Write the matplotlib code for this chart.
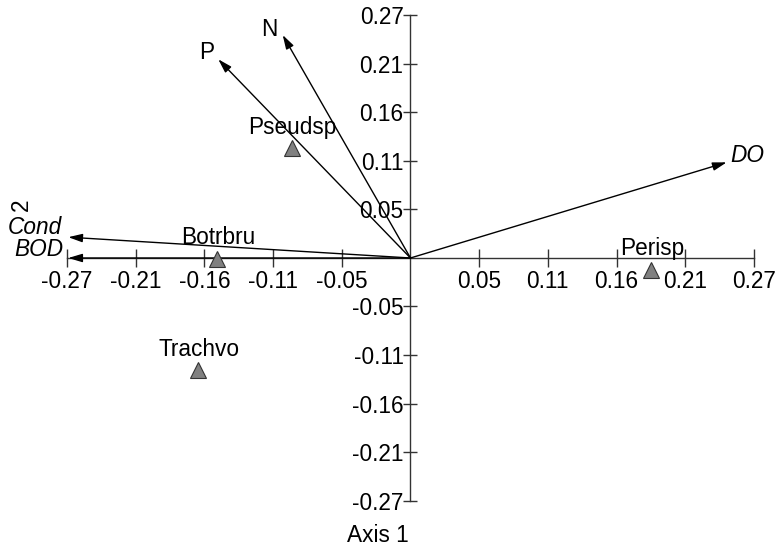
import numpy as np
import matplotlib
matplotlib.use('Agg')
import matplotlib.pyplot as plt

plt.rcParams['font.family'] = ['Liberation Sans', 'DejaVu Sans']

# ticks (evenly spaced, labelled as in the original)
tick_values = [-0.268, -0.2144, -0.1608, -0.1072, -0.0536, 0.0536, 0.1072, 0.1608, 0.2144, 0.268]
tick_labels = ['-0.27', '-0.21', '-0.16', '-0.11', '-0.05', '0.05', '0.11', '0.16', '0.21', '0.27']

# environmental vectors
env_names = ['N', 'P', 'DO', 'Cond', 'BOD']
env_x = [-0.0997, -0.150, 0.2467, -0.267, -0.267]
env_y = [0.2464, 0.2196, 0.1057, 0.023, 0.0]
env_italic = [False, False, True, True, True]

# species scores
sp_names = ['Pseudsp', 'Botrbru', 'Perisp', 'Trachvo']
sp_x = [-0.0927, -0.1507, 0.188, -0.166]
sp_y = [0.121, -0.001, -0.013, -0.1238]

# label offsets in pixels relative to arrow tips
env_offsets = [(-13, 6), (-12, 7), (21, 7), (-6, 10), (-5, 8)]
env_ha = ['center', 'center', 'center', 'right', 'right']

fs = 16.3

fig = plt.figure(figsize=(7.77, 5.53), dpi=100)
ax = fig.add_axes([0, 0, 1, 1])
ax.set_xlim(-0.3203, 0.2860)
ax.set_ylim(-0.326, 0.2851)

axis_color = '#333333'
for side in ['top', 'right']:
    ax.spines[side].set_visible(False)
ax.spines['left'].set_position(('data', 0))
ax.spines['bottom'].set_position(('data', 0))
ax.spines['left'].set_bounds(-0.268, 0.268)
ax.spines['bottom'].set_bounds(-0.268, 0.268)
for side in ['left', 'bottom']:
    ax.spines[side].set_color(axis_color)
    ax.spines[side].set_linewidth(1.0)

ax.set_xticks(tick_values)
ax.set_xticklabels(tick_labels)
ax.set_yticks(tick_values)
ax.set_yticklabels(tick_labels)
ax.tick_params(axis='x', direction='inout', length=13, width=1, color=axis_color,
               labelsize=fs, pad=2)
ax.tick_params(axis='y', direction='inout', length=10, width=1, color=axis_color,
               labelsize=fs, pad=0)

# arrows
for name, x, y, it, off, ha in zip(env_names, env_x, env_y, env_italic, env_offsets, env_ha):
    ax.annotate('', xy=(x, y), xytext=(0, 0),
                arrowprops=dict(arrowstyle='-|>,head_length=0.6,head_width=0.18',
                                mutation_scale=14, color='black', lw=1,
                                shrinkA=0, shrinkB=0))
    ax.annotate(name, xy=(x, y), xytext=off, textcoords='offset pixels',
                ha=ha, va='center', fontsize=fs,
                fontstyle='italic' if it else 'normal')

# species
ax.plot(sp_x, sp_y, linestyle='none', marker='^', markersize=11,
        markerfacecolor='#808080', markeredgecolor='#333333', markeredgewidth=0.8, zorder=3)
for name, x, y in zip(sp_names, sp_x, sp_y):
    ax.annotate(name, xy=(x, y), xytext=(1, 21), textcoords='offset pixels',
                ha='center', va='center', fontsize=fs)

fig.text(378 / 777, 1 - 535 / 553, 'Axis 1', ha='center', va='center', fontsize=fs)
fig.text(21 / 777, 1 - 205 / 553, '2', ha='center', va='center', fontsize=fs, rotation=90)

fig.savefig('out.png', dpi=100)
